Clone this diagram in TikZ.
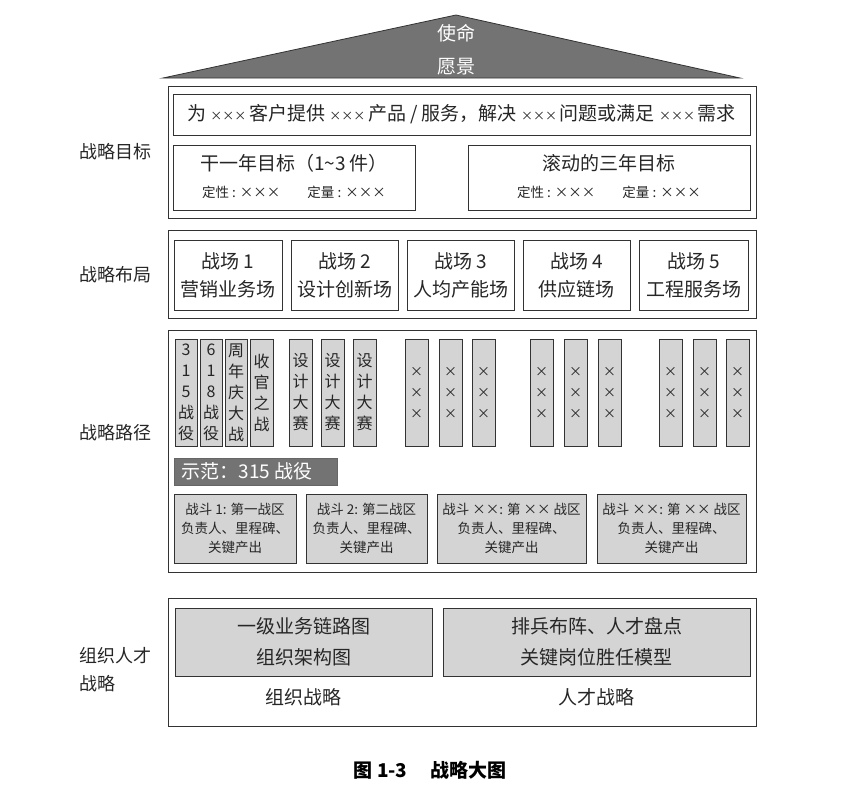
\documentclass[tikz,border=0pt]{standalone}
\usepackage{fontspec}
\setmainfont{Noto Sans CJK SC}
\newfontfamily\cjk{Noto Sans CJK SC}
\begin{document}
\begin{tikzpicture}[x=1pt,y=-1pt,
  frame/.style={draw=black!80,line width=0.8pt},
  wbox/.style={draw=black!80,line width=0.8pt,fill=white},
  gbox/.style={draw=black!80,line width=0.8pt,fill=black!17},
  big/.style={font=\fontsize{19}{23}\selectfont,text=black!85},
  small/.style={font=\fontsize{13.5}{15}\selectfont,text=black!85},
  col/.style={font=\fontsize{16}{21}\selectfont,align=center,text=black!85},
  side/.style={font=\fontsize{18}{28}\selectfont,align=left,text=black!85}]
\useasboundingbox (0,0) rectangle (863,803);
% roof
\path[draw=black!80,fill=black!55,line width=0.8pt] (163,78) -- (456,15) -- (740,78) -- cycle;
\node[font=\fontsize{19}{33}\selectfont,text=white,align=center] (roof) at (456,50) {使命\\愿景};
% section 1
\draw[frame] (168,86) rectangle (756,218);
\node[side] (l1) at (115,152) {战略目标};
\draw[wbox] (173,94) rectangle (750,135);
\node[big] (t1) at (461.5,114) {为 \fontsize{12}{12}\selectfont ××× \fontsize{19}{23}\selectfont 客户提供 \fontsize{12}{12}\selectfont ××× \fontsize{19}{23}\selectfont 产品 / 服务，解决 \fontsize{12}{12}\selectfont ××× \fontsize{19}{23}\selectfont 问题或满足 \fontsize{12}{12}\selectfont ××× \fontsize{19}{23}\selectfont 需求};
\draw[wbox] (173,145) rectangle (415,210);
\draw[wbox] (468,145) rectangle (750,210);
\node[big] (g1) at (294,163) {干一年目标（1\textasciitilde 3 件）};
\node[small] (g1s) at (294,192) {定性 : ×××\hspace{2em}定量 : ×××};
\node[big] (g2) at (609,163) {滚动的三年目标};
\node[small] (g2s) at (609,192) {定性 : ×××\hspace{2em}定量 : ×××};
% section 2
\draw[frame] (168,230) rectangle (756,318);
\node[side] (l2) at (115,275) {战略布局};
\foreach \a/\b/\n/\t [count=\i] in {174/282/1/营销业务场,291/398/2/设计创新场,407/514/3/人均产能场,523/630/4/供应链场,639/748/5/工程服务场}{
  \draw[wbox] (\a,240) rectangle (\b,310);
  \node[big,align=center,font=\fontsize{19}{28}\selectfont] (f\i) at ({(\a+\b)/2},275) {战场 \n\\\t};
}
% section 3
\draw[frame] (168,330) rectangle (756,572);
\node[side] (l3) at (115,433) {战略路径};
\foreach \a/\b/\t [count=\i] in {175/197/{3\\1\\5\\战\\役},200/222/{6\\1\\8\\战\\役},225/247/{周\\年\\庆\\大\\战},250/273/{收\\官\\之\\战},289/312/{设\\计\\大\\赛},321/344/{设\\计\\大\\赛},353/376/{设\\计\\大\\赛}}{
  \draw[gbox] (\a,339) rectangle (\b,446);
  \node[col] (c\i) at ({(\a+\b)/2},392.5) {\t};
}
\foreach \a [count=\i] in {405,439,472,530,564,598,659,693,726}{
  \draw[gbox] (\a,339) rectangle ({\a+23},446);
  \node[col,font=\fontsize{13}{21}\selectfont] (x\i) at ({\a+11.5},392.5) {×\\×\\×};
}
\draw[draw=black!60,fill=black!55] (174,458) rectangle (337,485);
\node[font=\fontsize{19}{20}\selectfont,text=white,anchor=west] (demo) at (178,471.5) {示范：315 战役};
\foreach \a/\b/\t [count=\i] in {174/296/{战斗 1: 第一战区},306/427/{战斗 2: 第二战区},437/586/{战斗 ××: 第 ×× 战区},597/746/{战斗 ××: 第 ×× 战区}}{
  \draw[gbox] (\a,494) rectangle (\b,563);
  \node[align=center,font=\fontsize{13.5}{19}\selectfont,text=black!85] (b\i) at ({(\a+\b)/2},528.5) {\t\\负责人、里程碑、\\关键产出};
}
% section 4
\draw[frame] (168,598) rectangle (756,726);
\node[side] (l4) at (115,670) {组织人才\\战略};
\draw[gbox] (175,608) rectangle (432,676);
\draw[gbox] (443,608) rectangle (750,676);
\node[big,align=center,font=\fontsize{19}{31}\selectfont] (o1) at (303.5,642) {一级业务链路图\\组织架构图};
\node[big,align=center,font=\fontsize{19}{31}\selectfont] (o2) at (596.5,642) {排兵布阵、人才盘点\\关键岗位胜任模型};
\node[big] (o1l) at (303.5,697) {组织战略};
\node[big] (o2l) at (596.5,697) {人才战略};
% caption
\node[font=\fontsize{19}{20}\selectfont\bfseries] (cap) at (430,770) {图 1-3\hspace{1.2em}战略大图};
\end{tikzpicture}
\end{document}
